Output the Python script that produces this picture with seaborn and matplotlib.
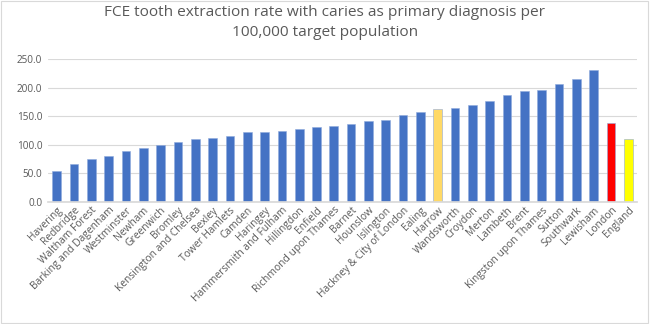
import matplotlib
matplotlib.use("Agg")
import matplotlib.pyplot as plt
import seaborn as sns
import pandas as pd
from matplotlib.ticker import FuncFormatter

areas = ["Havering", "Redbridge", "Waltham Forest", "Barking and Dagenham", "Westminster",
         "Newham", "Greenwich", "Bromley", "Kensington and Chelsea", "Bexley",
         "Tower Hamlets", "Camden", "Haringey", "Hammersmith and Fulham", "Hillingdon",
         "Enfield", "Richmond upon Thames", "Barnet", "Hounslow", "Islington",
         "Hackney & City of London", "Ealing", "Harrow", "Wandsworth", "Croydon",
         "Merton", "Lambeth", "Brent", "Kingston upon Thames", "Sutton",
         "Southwark", "Lewisham", "London", "England"]
rates = [55, 66, 76, 80, 89, 95, 100, 104.5, 110, 111.5,
         116, 122, 123, 124, 128, 131, 132.5, 137, 141, 143.5,
         152, 157, 162, 164, 169, 176, 187, 194, 195, 207,
         215, 231, 138, 110]

BLUE = "#4472C4"
special = {"Harrow": "#FFD966", "London": "#FF0000", "England": "#FFFF00"}
colors = [special.get(a, BLUE) for a in areas]

df = pd.DataFrame({"area": areas, "rate": rates})

sns.set_theme(style="white")
plt.rcParams["font.family"] = ["Open Sans", "DejaVu Sans"]

fig = plt.figure(figsize=(6.5, 3.24), dpi=100)
ax = fig.add_axes([0.0738, 0.3765, 0.9062, 0.4415])
sns.barplot(data=df, x="area", y="rate", hue="area", palette=colors, legend=False,
            width=0.5, ax=ax, edgecolor="#8FAADC", linewidth=0.4, saturation=1)

ax.set_ylim(0, 250)
ax.set_yticks([0, 50, 100, 150, 200, 250])
ax.yaxis.set_major_formatter(FuncFormatter(lambda v, p: f"{v:.1f}"))
ax.grid(axis="y", color="#D9D9D9", linewidth=0.8)
ax.set_axisbelow(True)
for s in ["top", "right", "left"]:
    ax.spines[s].set_visible(False)
ax.spines["bottom"].set_color("#D9D9D9")
ax.set_xlabel("")
ax.set_ylabel("")
ax.tick_params(axis="y", labelsize=7.2, colors="#595959", length=0, pad=4)
ax.tick_params(axis="x", labelsize=7.4, colors="#595959", length=0, pad=2)
plt.setp(ax.get_xticklabels(), rotation=45, ha="right", rotation_mode="anchor")

fig.text(0.5, 0.985, "FCE tooth extraction rate with caries as primary diagnosis per\n100,000 target population",
         ha="center", va="top", fontsize=11.1, color="#595959", linespacing=1.5)

border = plt.Rectangle((0.002, 0.002), 0.995, 0.995, transform=fig.transFigure,
                       fill=False, edgecolor="#D9D9D9", linewidth=0.8)
fig.patches.append(border)

fig.savefig("out.png", dpi=100, facecolor="white")
